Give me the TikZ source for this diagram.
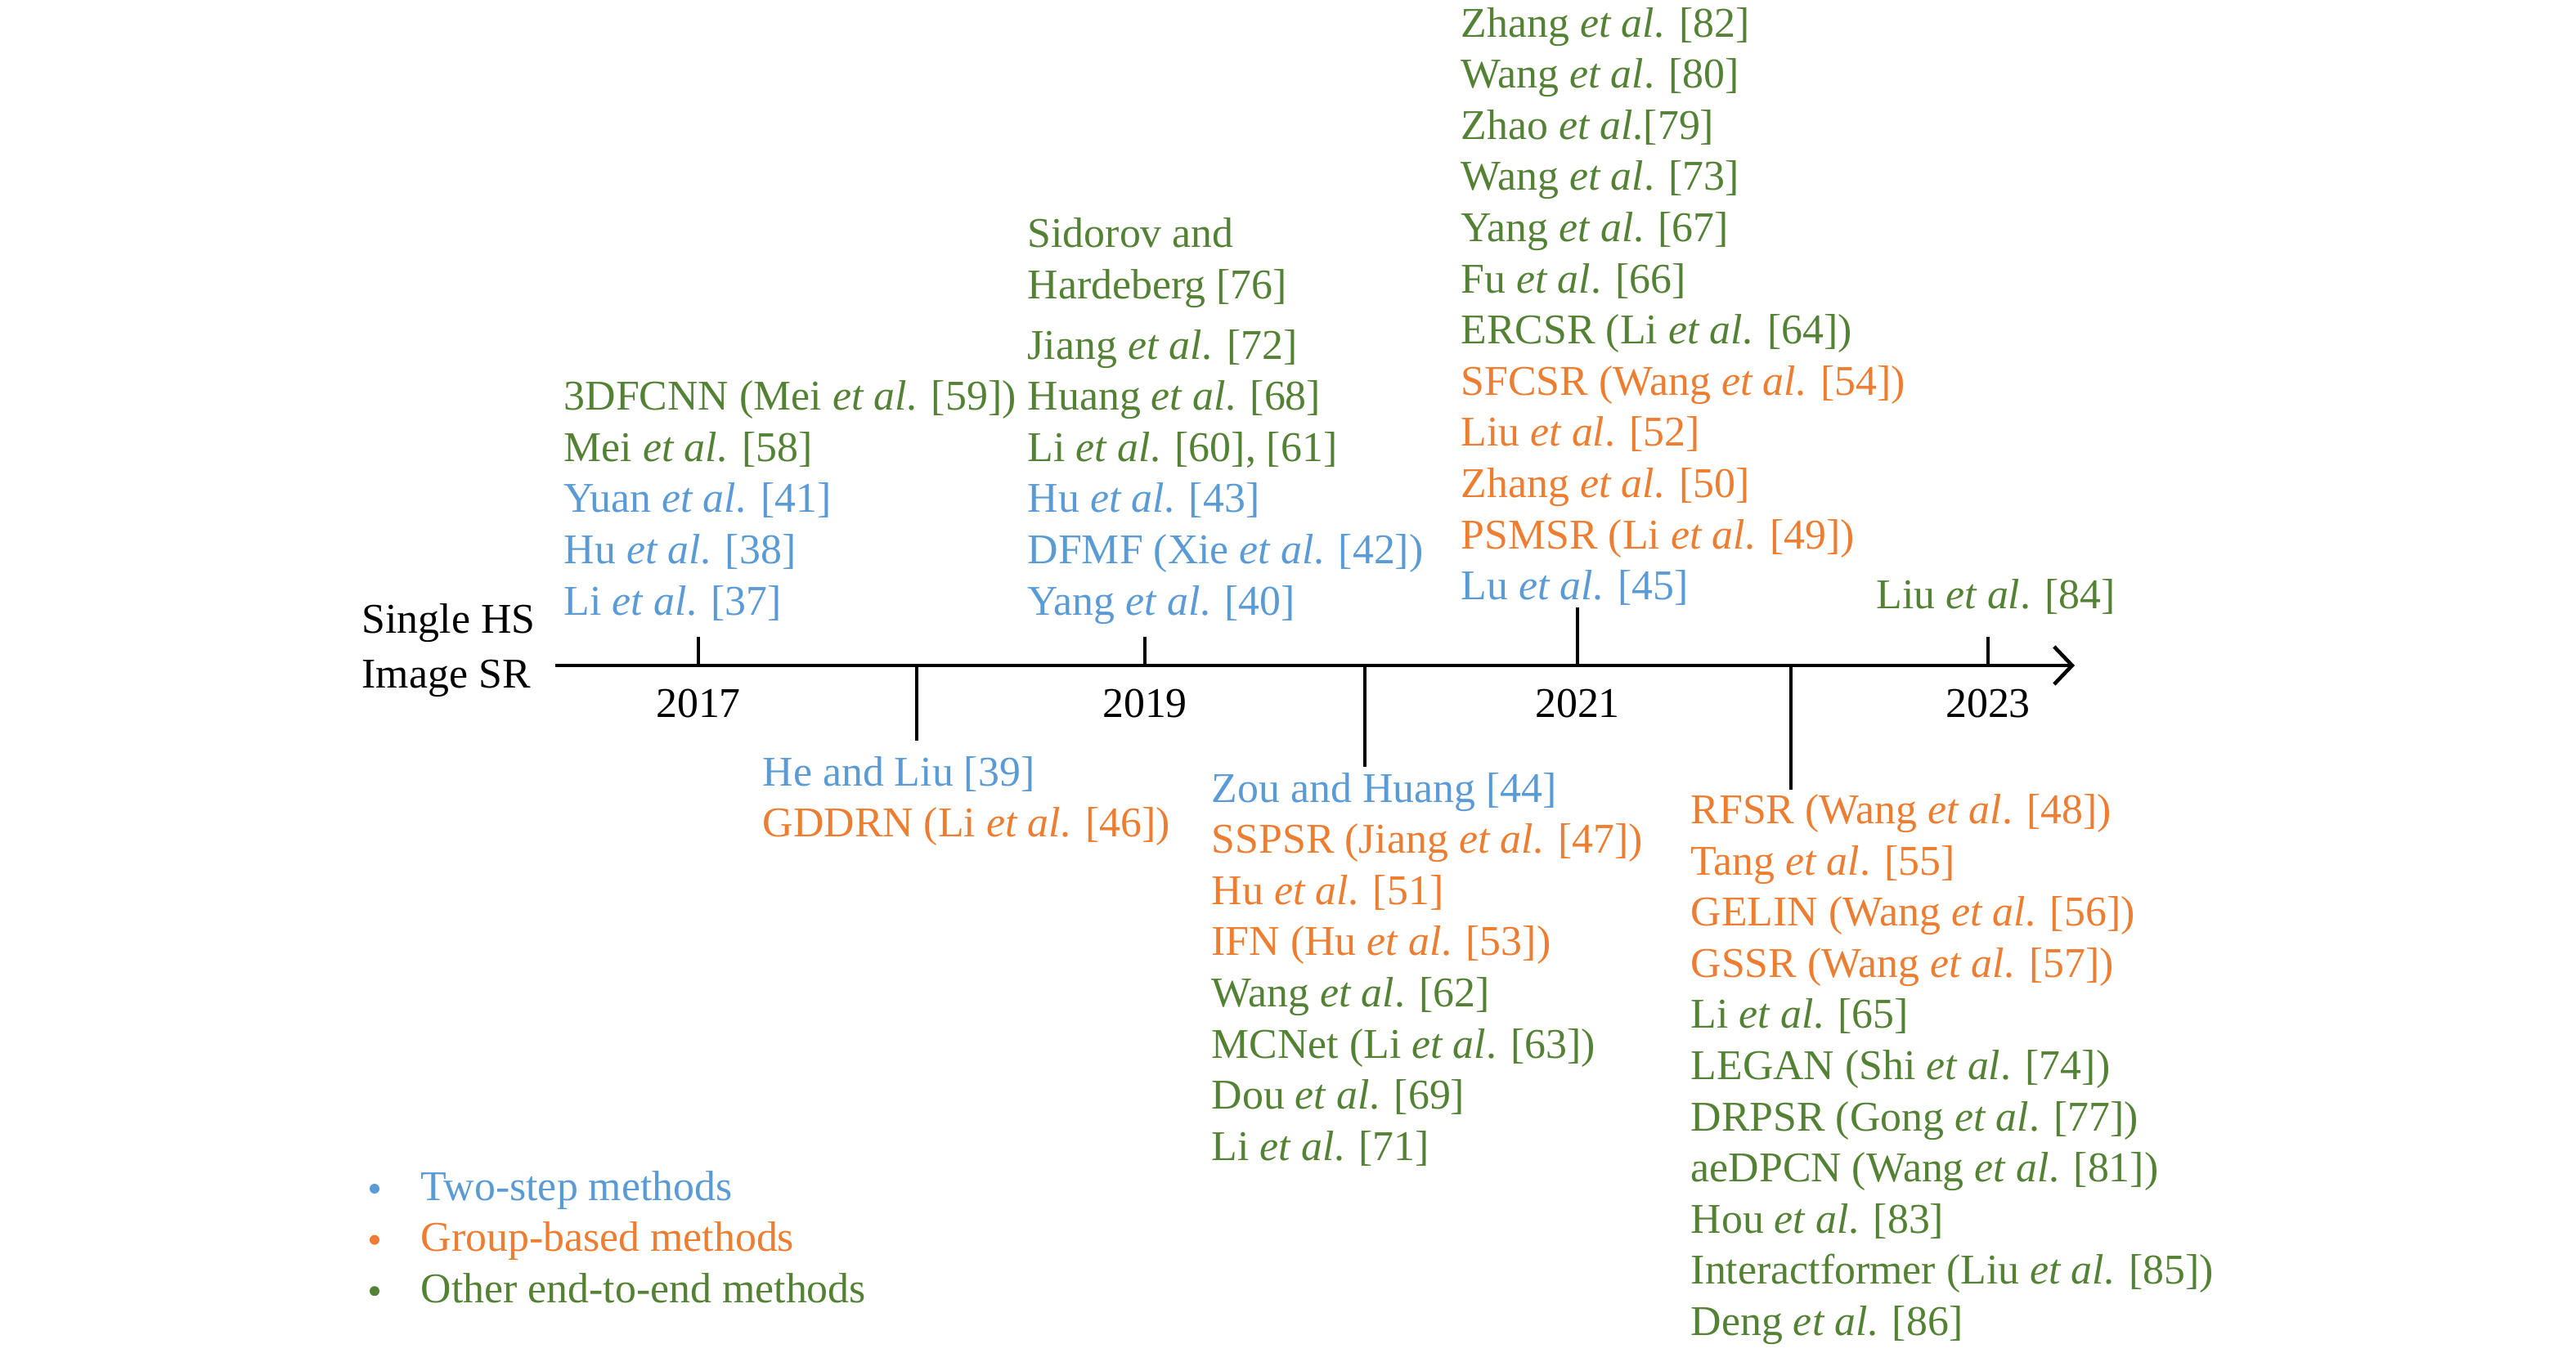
\documentclass[tikz,border=0pt]{standalone}
\usepackage{fontspec}
\setmainfont{Liberation Serif}
\usetikzlibrary{arrows.meta}
\definecolor{cblue}{HTML}{5B9BD5}
\definecolor{corange}{HTML}{ED7D31}
\definecolor{cgreen}{HTML}{548235}
\newcommand\myetal{\textit{et al}.}
\tikzset{
  lbl/.style={anchor=base west, inner sep=0pt, font=\fontsize{14.75}{18}\selectfont},
  yr/.style={anchor=base, inner sep=0pt, font=\fontsize{14.75}{18}\selectfont},
  bl/.style={lbl, text=cblue},
  og/.style={lbl, text=corange},
  gr/.style={lbl, text=cgreen},
  axisline/.style={line width=1.3pt, -{Straight Barb[length=2.2mm,width=4.6mm,line width=1.3pt]}},
  tick/.style={line width=1pt},
  dotb/.style={circle, inner sep=0pt, minimum size=1.2mm}
}
\begin{document}
\begin{tikzpicture}
\useasboundingbox (0,0) rectangle (31.5,-16.54);
% axis
\coordinate (ax0) at (6.79,-8.14);
\coordinate (ax1) at (25.37,-8.14);
\draw[axisline] (ax0) -- (ax1);
% up ticks
\coordinate (t17) at (8.54,-8.14); \coordinate (t17u) at (8.54,-7.79);
\coordinate (t19) at (14.00,-8.14); \coordinate (t19u) at (14.00,-7.79);
\coordinate (t21) at (19.29,-8.14); \coordinate (t21u) at (19.29,-7.43);
\coordinate (t23) at (24.31,-8.14); \coordinate (t23u) at (24.31,-7.79);
\draw[tick] (t17) -- (t17u);
\draw[tick] (t19) -- (t19u);
\draw[tick] (t21) -- (t21u);
\draw[tick] (t23) -- (t23u);
% down ticks
\coordinate (d1) at (11.21,-8.14); \coordinate (d1b) at (11.21,-9.06);
\coordinate (d2) at (16.69,-8.14); \coordinate (d2b) at (16.69,-9.38);
\coordinate (d3) at (21.90,-8.14); \coordinate (d3b) at (21.90,-9.66);
\draw[tick] (d1) -- (d1b);
\draw[tick] (d2) -- (d2b);
\draw[tick] (d3) -- (d3b);
% years
\node[yr] (y17) at (8.54,-8.77) {2017};
\node[yr] (y19) at (14.00,-8.77) {2019};
\node[yr] (y21) at (19.29,-8.77) {2021};
\node[yr] (y23) at (24.31,-8.77) {2023};
% title
\node[lbl] (ti1) at (4.42,-7.745) {Single HS};
\node[lbl] (ti2) at (4.42,-8.41) {Image SR};
% block A (2017 up)
\node[gr] (a1) at (6.89,-5.016) {3DFCNN (Mei \myetal{} [59])};
\node[gr] (a2) at (6.89,-5.642) {Mei \myetal{} [58]};
\node[bl] (a3) at (6.89,-6.268) {Yuan \myetal{} [41]};
\node[bl] (a4) at (6.89,-6.894) {Hu \myetal{} [38]};
\node[bl] (a5) at (6.89,-7.52) {Li \myetal{} [37]};
% block B (2019 up)
\node[gr] (b0) at (12.56,-3.02) {Sidorov and};
\node[gr] (b1) at (12.56,-3.65) {Hardeberg [76]};
\node[gr] (b2) at (12.56,-4.39) {Jiang \myetal{} [72]};
\node[gr] (b3) at (12.56,-5.016) {Huang \myetal{} [68]};
\node[gr] (b4) at (12.56,-5.642) {Li \myetal{} [60], [61]};
\node[bl] (b5) at (12.56,-6.268) {Hu \myetal{} [43]};
\node[bl] (b6) at (12.56,-6.894) {DFMF (Xie \myetal{} [42])};
\node[bl] (b7) at (12.56,-7.52) {Yang \myetal{} [40]};
% block C (2021 up)
\node[gr] (c1) at (17.86,-0.45) {Zhang \myetal{} [82]};
\node[gr] (c2) at (17.86,-1.076) {Wang \myetal{} [80]};
\node[gr] (c3) at (17.86,-1.702) {Zhao \myetal{}[79]};
\node[gr] (c4) at (17.86,-2.328) {Wang \myetal{} [73]};
\node[gr] (c5) at (17.86,-2.954) {Yang \myetal{} [67]};
\node[gr] (c6) at (17.86,-3.58) {Fu \myetal{} [66]};
\node[gr] (c7) at (17.86,-4.206) {ERCSR (Li \myetal{} [64])};
\node[og] (c8) at (17.86,-4.832) {SFCSR (Wang \myetal{} [54])};
\node[og] (c9) at (17.86,-5.458) {Liu \myetal{} [52]};
\node[og] (c10) at (17.86,-6.084) {Zhang \myetal{} [50]};
\node[og] (c11) at (17.86,-6.71) {PSMSR (Li \myetal{} [49])};
\node[bl] (c12) at (17.86,-7.336) {Lu \myetal{} [45]};
% block D (2023 up)
\node[gr] (dd1) at (22.94,-7.44) {Liu \myetal{} [84]};
% block E
\node[bl] (e1) at (9.32,-9.61) {He and Liu [39]};
\node[og] (e2) at (9.32,-10.236) {GDDRN (Li \myetal{} [46])};
% block F
\node[bl] (f1) at (14.81,-9.81) {Zou and Huang [44]};
\node[og] (f2) at (14.81,-10.436) {SSPSR (Jiang \myetal{} [47])};
\node[og] (f3) at (14.81,-11.062) {Hu \myetal{} [51]};
\node[og] (f4) at (14.81,-11.688) {IFN (Hu \myetal{} [53])};
\node[gr] (f5) at (14.81,-12.314) {Wang \myetal{} [62]};
\node[gr] (f6) at (14.81,-12.94) {MCNet (Li \myetal{} [63])};
\node[gr] (f7) at (14.81,-13.566) {Dou \myetal{} [69]};
\node[gr] (f8) at (14.81,-14.192) {Li \myetal{} [71]};
% block G
\node[og] (g1) at (20.67,-10.075) {RFSR (Wang \myetal{} [48])};
\node[og] (g2) at (20.67,-10.701) {Tang \myetal{} [55]};
\node[og] (g3) at (20.67,-11.327) {GELIN (Wang \myetal{} [56])};
\node[og] (g4) at (20.67,-11.953) {GSSR (Wang \myetal{} [57])};
\node[gr] (g5) at (20.67,-12.579) {Li \myetal{} [65]};
\node[gr] (g6) at (20.67,-13.205) {LEGAN (Shi \myetal{} [74])};
\node[gr] (g7) at (20.67,-13.831) {DRPSR (Gong \myetal{} [77])};
\node[gr] (g8) at (20.67,-14.457) {aeDPCN (Wang \myetal{} [81])};
\node[gr] (g9) at (20.67,-15.083) {Hou \myetal{} [83]};
\node[gr] (g10) at (20.67,-15.709) {Interactformer (Liu \myetal{} [85])};
\node[gr] (g11) at (20.67,-16.335) {Deng \myetal{} [86]};
% legend
\node[dotb, fill=cblue] (lb1) at (4.58,-14.54) {};
\node[dotb, fill=corange] (lb2) at (4.58,-15.166) {};
\node[dotb, fill=cgreen] (lb3) at (4.58,-15.792) {};
\node[bl] (l1) at (5.14,-14.68) {Two-step methods};
\node[og] (l2) at (5.14,-15.306) {Group-based methods};
\node[gr] (l3) at (5.14,-15.932) {Other end-to-end methods};
\end{tikzpicture}
\end{document}
